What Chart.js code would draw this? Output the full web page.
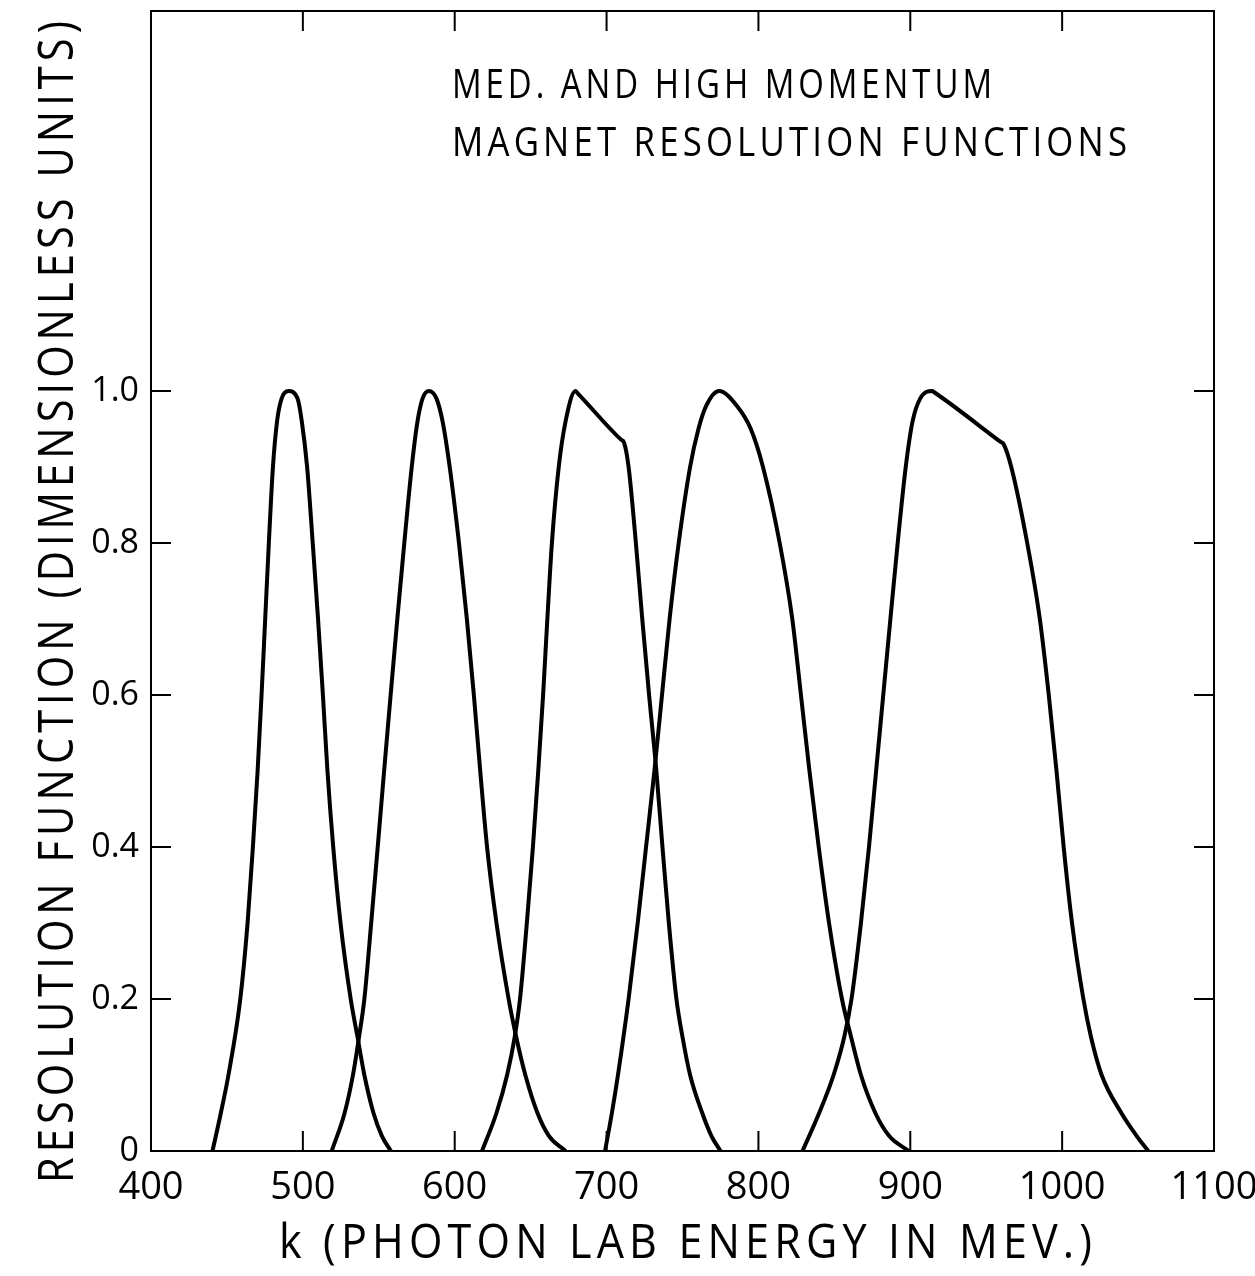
<!DOCTYPE html>
<html>
<head>
<meta charset="utf-8">
<script src="https://cdn.jsdelivr.net/npm/chart.js@4.4.1/dist/chart.umd.min.js"></script>
<style>
  html, body { margin: 0; padding: 0; background: #fff; }
  #wrap { width: 1255px; height: 1276px; position: relative; }
</style>
</head>
<body>
<div id="wrap"><canvas id="chart"></canvas></div>
<script>
// five resolution functions, k in MeV
const k1 = [440.5, 446, 451, 458.8, 463.6, 467.1, 470.2, 472.8, 475.2, 477.6, 480.3, 483, 486, 490.5, 496.5, 499.3, 502.8, 506.5, 510, 513.2, 516.2, 520, 524.8, 531.5, 536, 540.5, 546.5, 552, 558];
const r1 = [0, 0.05, 0.1, 0.2, 0.3, 0.4, 0.5, 0.6, 0.7, 0.8, 0.9, 0.96, 0.99, 1.0, 0.99, 0.96, 0.9, 0.8, 0.7, 0.6, 0.5, 0.4, 0.3, 0.2, 0.15, 0.1, 0.05, 0.02, 0];

const k2 = [519, 527.5, 533, 537, 540.5, 545, 549.3, 553.5, 557.8, 562.2, 566.8, 571.7, 575.5, 578.8, 583, 588, 592, 596.7, 602.8, 608, 612.6, 616.8, 621.3, 627.5, 635.5, 640.5, 646.5, 654.5, 662, 673];
const r2 = [0, 0.05, 0.1, 0.15, 0.2, 0.3, 0.4, 0.5, 0.6, 0.7, 0.8, 0.9, 0.96, 0.99, 1.0, 0.99, 0.96, 0.9, 0.8, 0.7, 0.6, 0.5, 0.4, 0.3, 0.2, 0.15, 0.1, 0.05, 0.02, 0];

const k3 = [618, 627.5, 634.5, 639.5, 643, 647.5, 651.5, 655, 658.2, 661, 664, 668.5, 673, 679.5, 681, 709.5, 711.5, 714.5, 719.3, 723.5, 728, 732.8, 736.8, 741, 746, 750, 755, 763, 769, 775];
const r3 = [0, 0.05, 0.1, 0.15, 0.2, 0.3, 0.4, 0.5, 0.6, 0.7, 0.8, 0.9, 0.96, 1.0, 0.997, 0.936, 0.932, 0.9, 0.8, 0.7, 0.6, 0.5, 0.4, 0.3, 0.2, 0.15, 0.1, 0.05, 0.02, 0];

const k4 = [699, 703.5, 707.5, 714.5, 720.5, 726, 731.5, 736.5, 741.5, 747.5, 755, 760.5, 765.5, 774, 786, 795, 803, 814, 822.3, 828, 833.6, 839.7, 846.5, 855, 861, 867.5, 877, 886, 899];
const r4 = [0, 0.05, 0.1, 0.2, 0.3, 0.4, 0.5, 0.6, 0.7, 0.8, 0.9, 0.95, 0.98, 1.0, 0.98, 0.95, 0.9, 0.8, 0.7, 0.6, 0.5, 0.4, 0.3, 0.2, 0.15, 0.1, 0.05, 0.02, 0];

const k5 = [829, 840, 849.5, 856.5, 861.3, 867.5, 872.8, 877.5, 882.2, 886.9, 891.7, 897, 901.5, 906.5, 914.4, 916, 959.5, 961.5, 966.5, 977, 985.3, 991.2, 996.3, 1001, 1006.5, 1014, 1019, 1026, 1039, 1049, 1056.7];
const r5 = [0, 0.05, 0.1, 0.15, 0.2, 0.3, 0.4, 0.5, 0.6, 0.7, 0.8, 0.9, 0.96, 0.99, 1.0, 0.998, 0.933, 0.93, 0.9, 0.8, 0.7, 0.6, 0.5, 0.4, 0.3, 0.2, 0.15, 0.1, 0.05, 0.02, 0];

// axes
const xTickValues = [400, 500, 600, 700, 800, 900, 1000, 1100];
const xTickLabels = ['400', '500', '600', '700', '800', '900', '1000', '1100'];
const xTickMarks = [500, 600, 700, 800, 900, 1000];
const yTickValues = [0, 0.2, 0.4, 0.6, 0.8, 1.0];
const yTickLabels = ['0', '0.2', '0.4', '0.6', '0.8', '1.0'];
const yTickMarks = [0.2, 0.4, 0.6, 0.8, 1.0];

const xTitle = 'k (PHOTON LAB ENERGY IN MEV.)';
const yTitle = 'RESOLUTION FUNCTION (DIMENSIONLESS UNITS)';
const noteLines = ['MED. AND HIGH MOMENTUM', 'MAGNET RESOLUTION FUNCTIONS'];

const FONT = '"Open Sans", "Liberation Sans", sans-serif';

function toPoints(ks, rs) {
  return ks.map((k, i) => ({ x: k, y: rs[i] }));
}

function curve(ks, rs) {
  return {
    data: toPoints(ks, rs),
    borderColor: '#000',
    borderWidth: 4,
    pointRadius: 0,
    fill: false,
    cubicInterpolationMode: 'monotone'
  };
}

// lettering squeezed to the width it has on the original sheet
function spacedText(ctx, text, x, y, width, size, angle) {
  ctx.save();
  ctx.font = '400 ' + size + 'px ' + FONT;
  const gap = size * 0.12;
  ctx.letterSpacing = gap.toFixed(1) + 'px';
  const w = ctx.measureText(text).width - gap;
  ctx.translate(x, y);
  if (angle) ctx.rotate(angle);
  ctx.scale(width / w, 1);
  ctx.textAlign = 'left';
  ctx.textBaseline = 'alphabetic';
  ctx.fillStyle = '#000';
  ctx.fillText(text, 0, 0);
  ctx.restore();
}

const framePlugin = {
  id: 'frame',
  afterDatasetsDraw(chart) {
    const { ctx, chartArea: a, scales: { x, y } } = chart;
    ctx.save();
    ctx.strokeStyle = '#000';
    ctx.lineWidth = 2;
    ctx.strokeRect(a.left, a.top, a.right - a.left, a.bottom - a.top);
    ctx.beginPath();
    xTickMarks.forEach(v => {
      const px = x.getPixelForValue(v);
      ctx.moveTo(px, a.bottom); ctx.lineTo(px, a.bottom - 20);
      ctx.moveTo(px, a.top); ctx.lineTo(px, a.top + 20);
    });
    yTickMarks.forEach(v => {
      const py = y.getPixelForValue(v);
      ctx.moveTo(a.left, py); ctx.lineTo(a.left + 20, py);
      ctx.moveTo(a.right, py); ctx.lineTo(a.right - 20, py);
    });
    ctx.stroke();
    ctx.restore();
  },
  afterDraw(chart) {
    const ctx = chart.ctx;
    spacedText(ctx, xTitle, 279, 1258, 813, 47);
    spacedText(ctx, yTitle, 73, 1183, 1162, 49, -Math.PI / 2);
    spacedText(ctx, noteLines[0], 452, 98, 540, 40);
    spacedText(ctx, noteLines[1], 452, 156, 675, 40);
  }
};

new Chart(document.getElementById('chart'), {
  type: 'line',
  data: {
    datasets: [curve(k1, r1), curve(k2, r2), curve(k3, r3), curve(k4, r4), curve(k5, r5)]
  },
  options: {
    responsive: true,
    maintainAspectRatio: false,
    animation: false,
    layout: { padding: { left: 0, right: 41, top: 11, bottom: 0 } },
    plugins: { legend: { display: false }, tooltip: { enabled: false }, title: { display: false } },
    scales: {
      x: {
        type: 'linear',
        min: 400,
        max: 1100,
        afterBuildTicks: s => { s.ticks = xTickValues.map(v => ({ value: v })); },
        afterFit: s => { s.height = 125; s.paddingLeft = 0; s.paddingRight = 0; },
        grid: { display: false, drawTicks: false },
        border: { display: false },
        ticks: {
          autoSkip: false,
          maxRotation: 0,
          padding: 14,
          color: '#000',
          font: { family: FONT, size: 38, weight: '400' },
          callback: (v, i) => xTickLabels[i]
        }
      },
      y: {
        type: 'linear',
        min: 0,
        max: 1.5,
        afterBuildTicks: s => { s.ticks = yTickValues.map(v => ({ value: v })); },
        afterFit: s => { s.width = 151; s.paddingTop = 0; s.paddingBottom = 0; },
        grid: { display: false, drawTicks: false },
        border: { display: false },
        ticks: {
          padding: 12,
          color: '#000',
          font: { family: FONT, size: 34, weight: '400' },
          callback: (v, i) => yTickLabels[i]
        }
      }
    }
  },
  plugins: [framePlugin]
});
</script>
</body>
</html>
